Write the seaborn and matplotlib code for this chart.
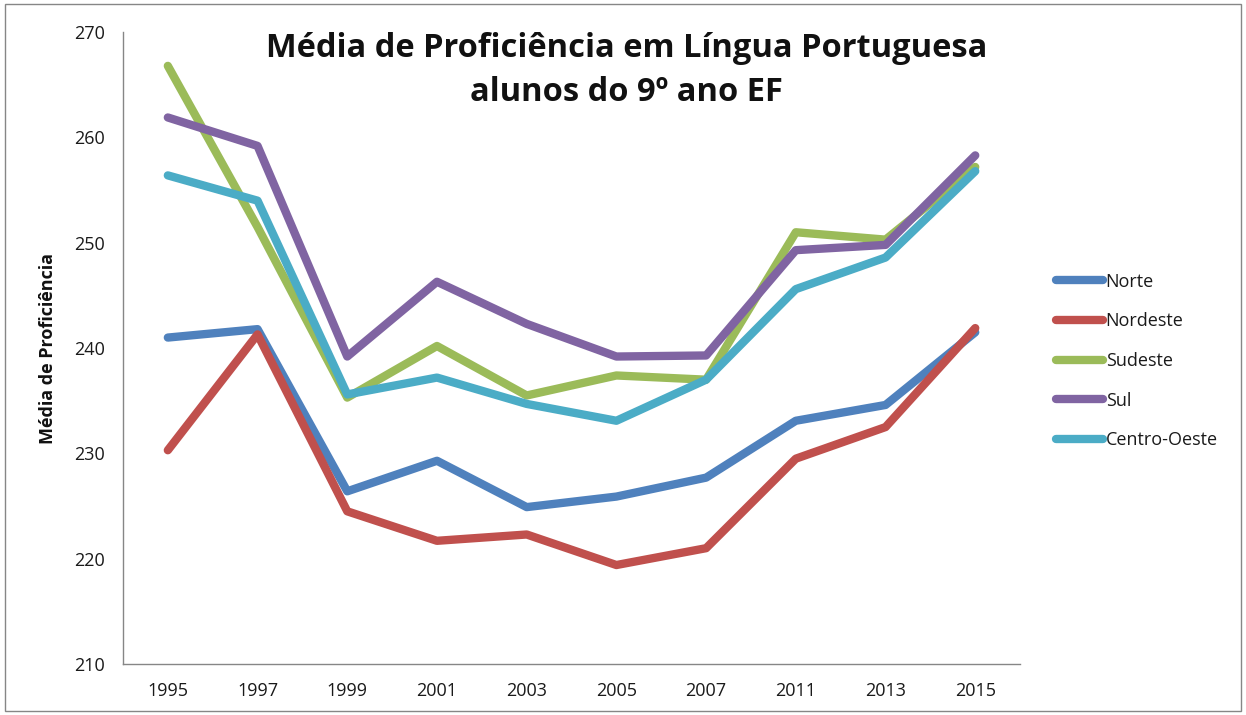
import matplotlib
matplotlib.use("Agg")
import matplotlib.pyplot as plt
import seaborn as sns
import pandas as pd
import numpy as np
from matplotlib.patches import Rectangle

years = ["1995", "1997", "1999", "2001", "2003", "2005", "2007", "2011", "2013", "2015"]
norte = [241.0, 241.8, 226.4, 229.3, 224.9, 225.9, 227.7, 233.1, 234.6, 241.5]
nordeste = [230.3, 241.3, 224.5, 221.7, 222.3, 219.4, 221.0, 229.5, 232.5, 241.9]
sudeste = [266.8, 251.5, 235.3, 240.2, 235.5, 237.4, 237.0, 251.0, 250.3, 257.2]
sul = [261.9, 259.2, 239.2, 246.3, 242.3, 239.2, 239.3, 249.3, 249.8, 258.3]
centro_oeste = [256.4, 254.0, 235.6, 237.2, 234.7, 233.1, 237.0, 245.6, 248.6, 256.8]
series_names = ["Norte", "Nordeste", "Sudeste", "Sul", "Centro-Oeste"]
colors = ["#4F81BD", "#C0504D", "#9BBB59", "#8064A2", "#4BACC6"]

sns.set_theme(style="white")
plt.rcParams['font.family'] = ['Open Sans', 'DejaVu Sans']

rows = []
for name, vals in zip(series_names, [norte, nordeste, sudeste, sul, centro_oeste]):
    for y, v in zip(years, vals):
        rows.append({"Ano": y, "Valor": v, "Região": name})
df = pd.DataFrame(rows)

fig = plt.figure(figsize=(12.46, 7.15), dpi=100)
ax = fig.add_axes([0.0987, 0.0713, 0.72, 0.8837])

sns.lineplot(data=df, x="Ano", y="Valor", hue="Região", palette=colors,
             hue_order=series_names, sort=False, linewidth=6, ax=ax,
             legend=True)
for line in ax.lines:
    line.set_solid_capstyle("round")
    line.set_solid_joinstyle("round")

ax.set_xlim(-0.5, len(years) - 0.5)
ax.set_ylim(210, 270)
ax.set_yticks(np.arange(210, 271, 10))
ax.set_xticks(range(len(years)))
ax.set_xticklabels(years)
ax.set_xticks(np.arange(-0.5, len(years), 1.0), minor=True)
ax.tick_params(axis="x", which="major", length=0, labelsize=13, pad=13, labelcolor="#1a1a1a")
ax.tick_params(axis="x", which="minor", length=6, width=1, color="#868686", direction="out")
ax.tick_params(axis="y", which="major", length=6, width=1, color="#868686", direction="out",
               labelsize=13, pad=7, labelcolor="#1a1a1a")
for s in ["top", "right"]:
    ax.spines[s].set_visible(False)
for s in ["left", "bottom"]:
    ax.spines[s].set_color("#868686")
    ax.spines[s].set_linewidth(1)
ax.set_xlabel("")
ax.set_ylabel("Média de Proficiência", fontsize=13, fontweight="bold", labelpad=12,
              color="#111111")
ax.grid(False)

ax.text(0.561, 1.0, "Média de Proficiência em Língua Portuguesa\nalunos do 9º ano EF",
        transform=ax.transAxes, ha="center", va="top", fontsize=23.5,
        fontweight="bold", linespacing=1.45, color="#111111")

leg = ax.legend(loc="upper left", bbox_to_anchor=(1.022, 0.645), frameon=False,
                fontsize=13, handlelength=2.6, handletextpad=0.15, labelspacing=1.2)
for h in leg.get_lines():
    h.set_linewidth(6)
    h.set_solid_capstyle("round")
for t in leg.get_texts():
    t.set_color("#1a1a1a")

fig.patches.append(Rectangle((0.004, 0.006), 0.992, 0.988, transform=fig.transFigure,
                             fill=False, edgecolor="#868686", linewidth=1))

fig.savefig("out.png", dpi=100)
